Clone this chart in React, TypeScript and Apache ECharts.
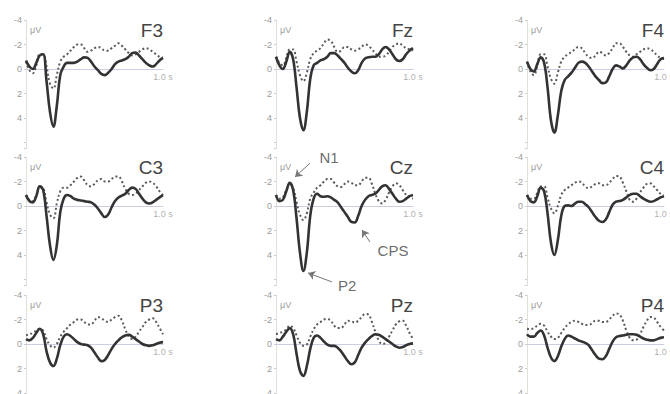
import React, { useEffect, useRef } from "react";
import * as echarts from "echarts";

const TIME = [0, 0.025, 0.05, 0.075, 0.1, 0.125, 0.15, 0.175, 0.2, 0.225, 0.25, 0.275, 0.3, 0.325, 0.35, 0.375, 0.4, 0.425, 0.45, 0.475, 0.5, 0.525, 0.55, 0.575, 0.6, 0.625, 0.65, 0.675, 0.7, 0.725, 0.75, 0.775, 0.8, 0.825, 0.85, 0.875, 0.9, 0.925, 0.95, 0.975, 1.0];

const ELECTRODES = ["F3", "Fz", "F4", "C3", "Cz", "C4", "P3", "Pz", "P4"];

const F3_SOLID = [-0.7, -0.2, 0.0, -0.5, -1.1, -1.2, 1.0, 3.5, 4.7, 3.0, 0.5, -0.2, -0.5, -0.5, -0.5, -0.6, -0.8, -0.95, -0.9, -0.6, -0.2, 0.1, 0.4, 0.5, 0.3, 0.0, -0.4, -0.6, -0.7, -0.8, -1.0, -1.3, -1.35, -1.1, -0.8, -0.5, -0.3, -0.2, -0.4, -0.7, -0.9];
const F3_DOT = [-0.6, 0.1, 0.35, -0.3, -1.2, -1.2, -0.2, 1.2, 1.6, 0.5, -0.6, -1.0, -1.2, -1.5, -1.8, -2.0, -2.0, -1.7, -1.4, -1.5, -1.7, -1.8, -1.7, -1.5, -1.5, -1.7, -1.9, -2.1, -1.9, -1.6, -1.3, -1.1, -1.2, -1.4, -1.6, -1.7, -1.6, -1.4, -1.2, -1.0, -0.95];

const FZ_SOLID = [-1.0, -0.3, 0.0, -0.6, -1.4, -0.8, 1.5, 4.0, 5.0, 3.5, 0.8, -0.3, -0.5, -0.7, -0.8, -1.0, -1.3, -1.3, -1.1, -0.8, -0.5, -0.1, 0.2, 0.35, 0.1, -0.5, -0.85, -0.95, -1.0, -1.0, -1.2, -1.6, -1.8, -1.6, -1.2, -0.8, -0.65, -0.8, -1.2, -1.5, -1.7];
const FZ_DOT = [-1.0, -0.5, -0.3, -0.9, -1.6, -1.6, -0.6, 0.5, 1.0, 0.3, -0.8, -1.3, -1.5, -1.7, -2.1, -2.4, -2.3, -1.8, -1.4, -1.5, -1.8, -1.8, -1.6, -1.5, -1.6, -1.8, -2.0, -1.9, -1.6, -1.3, -1.0, -1.0, -1.1, -1.4, -1.8, -2.0, -2.1, -1.9, -1.7, -1.6, -1.5];

const F4_SOLID = [-0.6, 0.0, 0.2, -0.4, -0.95, -0.5, 1.5, 4.2, 5.2, 3.8, 1.8, 0.9, 0.6, 0.3, -0.1, -0.5, -0.6, -0.5, -0.2, 0.2, 0.6, 0.9, 1.15, 1.1, 0.6, 0.0, -0.3, -0.2, -0.05, -0.3, -0.7, -0.95, -1.0, -0.8, -0.4, -0.1, 0.1, 0.0, -0.4, -0.8, -0.9];
const F4_DOT = [-0.6, 0.2, 0.5, -0.3, -1.2, -1.2, -0.2, 0.8, 1.2, 0.3, -0.6, -1.0, -1.2, -1.4, -1.6, -1.8, -1.7, -1.3, -1.0, -0.9, -1.1, -1.4, -1.3, -1.1, -1.3, -1.7, -2.1, -2.1, -1.8, -1.4, -1.1, -1.0, -1.2, -1.4, -1.6, -1.7, -1.6, -1.4, -1.1, -0.9, -0.8];

const C3_SOLID = [-0.9, -0.4, -0.3, -0.8, -1.6, -1.3, 0.8, 3.2, 4.4, 3.2, 0.5, -0.6, -0.9, -0.8, -0.6, -0.5, -0.45, -0.4, -0.35, -0.3, -0.1, 0.2, 0.6, 0.9, 0.7, 0.1, -0.4, -0.7, -0.85, -1.0, -1.3, -1.5, -1.4, -1.0, -0.6, -0.3, -0.2, -0.3, -0.5, -0.7, -0.9];
const C3_DOT = [-0.9, -0.5, -0.4, -0.9, -1.6, -1.5, -0.3, 0.7, 1.0, -0.2, -1.2, -1.5, -1.5, -1.7, -2.0, -2.3, -2.4, -2.1, -1.7, -1.6, -1.8, -2.1, -2.2, -2.0, -2.0, -2.2, -2.4, -2.4, -2.0, -1.4, -1.0, -0.9, -1.0, -1.3, -1.6, -1.9, -2.0, -1.9, -1.6, -1.2, -0.9];

const CZ_SOLID = [-0.9, -0.4, -0.5, -1.2, -1.9, -1.3, 1.0, 3.8, 5.3, 3.8, 0.8, -0.6, -1.0, -0.8, -0.75, -0.8, -0.7, -0.5, -0.3, 0.1, 0.5, 0.9, 1.3, 1.35, 0.8, 0.0, -0.5, -0.8, -0.9, -1.0, -1.3, -1.6, -1.7, -1.4, -1.0, -0.6, -0.35, -0.4, -0.6, -0.8, -0.9];
const CZ_DOT = [-0.9, -0.6, -0.7, -1.3, -1.85, -1.5, -0.3, 0.7, 1.15, 0.6, -0.6, -1.1, -1.5, -1.7, -2.0, -2.2, -2.2, -1.9, -1.6, -1.55, -1.8, -2.0, -1.9, -1.7, -1.7, -2.0, -2.3, -2.3, -1.8, -1.0, -0.4, -0.2, -0.5, -1.1, -1.6, -1.85, -1.7, -1.3, -0.9, -0.7, -0.6];

const C4_SOLID = [-0.9, -0.4, -0.3, -0.8, -1.5, -1.2, 0.6, 3.0, 4.0, 2.8, 0.8, 0.0, -0.05, 0.0, -0.2, -0.35, -0.35, -0.15, 0.1, 0.5, 0.9, 1.2, 1.3, 1.1, 0.5, -0.1, -0.35, -0.4, -0.5, -0.7, -0.9, -1.0, -1.0, -0.8, -0.6, -0.45, -0.35, -0.4, -0.55, -0.7, -0.8];
const C4_DOT = [-0.9, -0.6, -0.6, -1.1, -1.6, -1.6, -0.7, 0.2, 0.6, 0.0, -0.9, -1.3, -1.5, -1.7, -1.9, -2.0, -1.9, -1.6, -1.45, -1.6, -1.8, -1.85, -1.7, -1.7, -1.9, -2.2, -2.45, -2.4, -1.9, -1.2, -0.5, -0.35, -0.6, -1.1, -1.5, -1.8, -1.85, -1.6, -1.3, -1.0, -0.9];

const P3_SOLID = [-0.4, -0.3, -0.5, -0.9, -1.25, -0.8, 0.6, 1.5, 1.8, 1.2, 0.1, -0.6, -0.8, -0.65, -0.4, -0.15, 0.0, 0.05, 0.1, 0.3, 0.7, 1.1, 1.4, 1.3, 0.9, 0.4, 0.0, -0.3, -0.55, -0.7, -0.75, -0.6, -0.4, -0.2, 0.0, 0.1, 0.15, 0.1, 0.0, -0.1, -0.15];
const P3_DOT = [-0.7, -0.8, -0.9, -1.1, -1.25, -1.1, -0.4, 0.1, 0.3, 0.0, -0.6, -1.0, -1.3, -1.6, -1.8, -2.0, -2.0, -1.8, -1.6, -1.6, -1.9, -2.2, -2.1, -1.9, -1.8, -2.0, -2.2, -2.3, -1.9, -1.2, -0.6, -0.4, -0.6, -1.0, -1.4, -1.8, -2.0, -2.1, -1.8, -1.3, -0.8];

const PZ_SOLID = [-0.4, -0.3, -0.6, -1.0, -1.3, -0.8, 0.8, 2.2, 2.6, 1.8, 0.4, -0.5, -0.7, -0.5, -0.2, 0.05, 0.15, 0.15, 0.3, 0.6, 1.0, 1.4, 1.65, 1.5, 0.9, 0.3, -0.1, -0.4, -0.65, -0.8, -0.75, -0.6, -0.4, -0.2, 0.0, 0.2, 0.3, 0.25, 0.1, 0.0, -0.05];
const PZ_DOT = [-0.8, -0.9, -1.0, -1.2, -1.5, -1.3, -0.7, -0.1, 0.15, 0.05, -0.6, -1.2, -1.6, -1.8, -2.0, -2.05, -1.9, -1.5, -1.3, -1.3, -1.6, -1.9, -1.85, -1.75, -1.9, -2.2, -2.45, -2.4, -1.8, -1.0, -0.3, 0.0, -0.1, -0.6, -1.1, -1.6, -1.85, -1.9, -1.5, -0.9, -0.4];

const P4_SOLID = [-0.8, -0.6, -0.6, -0.9, -1.1, -0.7, 0.3, 1.1, 1.4, 1.0, 0.2, -0.4, -0.7, -0.6, -0.45, -0.3, -0.2, -0.1, 0.1, 0.5, 0.9, 1.2, 1.25, 1.0, 0.4, -0.2, -0.55, -0.65, -0.7, -0.75, -0.8, -0.8, -0.75, -0.6, -0.45, -0.35, -0.3, -0.3, -0.4, -0.5, -0.55];
const P4_DOT = [-1.25, -1.2, -1.3, -1.5, -1.65, -1.5, -1.0, -0.6, -0.4, -0.5, -0.9, -1.3, -1.6, -1.8, -1.9, -1.8, -1.65, -1.55, -1.55, -1.7, -1.9, -1.9, -1.8, -1.8, -2.0, -2.3, -2.5, -2.4, -1.9, -1.1, -0.5, -0.3, -0.35, -0.8, -1.4, -1.9, -2.2, -2.15, -1.8, -1.4, -1.1];

const SOLIDS = [F3_SOLID, FZ_SOLID, F4_SOLID, C3_SOLID, CZ_SOLID, C4_SOLID, P3_SOLID, PZ_SOLID, P4_SOLID];
const DOTS = [F3_DOT, FZ_DOT, F4_DOT, C3_DOT, CZ_DOT, C4_DOT, P3_DOT, PZ_DOT, P4_DOT];

const Y_TICKS = [-4, -2, 0, 2, 4];
const X_END_LABEL = "1.0 s";
const X_END = 1.0;

// Annotations for the Cz panel
const ANNOT_LABELS = ["N1", "CPS", "P2"];
const ANNOT_TEXT_POS = [[0.387, -3.92], [0.854, 3.6], [0.52, 6.45]];
const ANNOT_FROM = [[0.248, -3.5], [0.686, 2.94], [0.409, 6.2]];
const ANNOT_TO = [[0.139, -2.37], [0.628, 1.96], [0.234, 5.47]];

const COL_LEFT = [26, 276, 527];
const ROW_TOP = [20, 157, 295];
const GRID_W = 137;
const PX_PER_UV = 12.25;
const Y_MIN = -4;
const Y_MAX = 6.5;
const FONT = "'Liberation Sans', Arial, Helvetica, sans-serif";

export default function App() {
  const ref = useRef<HTMLDivElement>(null);
  useEffect(() => {
    if (!ref.current) return;
    const chart = echarts.init(ref.current, undefined, { renderer: "svg" });
    const grids: any[] = [];
    const xAxes: any[] = [];
    const yAxes: any[] = [];
    const titles: any[] = [];
    const series: any[] = [];
    ELECTRODES.forEach((name, i) => {
      const col = i % 3;
      const row = Math.floor(i / 3);
      grids.push({
        left: COL_LEFT[col],
        top: ROW_TOP[row],
        width: GRID_W,
        height: (Y_MAX - Y_MIN) * PX_PER_UV,
        containLabel: false,
        outerBoundsMode: "none",
      });
      xAxes.push({
        type: "value",
        gridIndex: i,
        min: 0,
        max: X_END,
        interval: 1,
        splitLine: { show: false },
        axisTick: { show: false },
        axisLine: { show: true, onZero: true, lineStyle: { color: "#c9cee2", width: 1 } },
        axisLabel: { show: false },
      });
      yAxes.push({
        type: "value",
        gridIndex: i,
        inverse: true,
        min: Y_MIN,
        max: Y_MAX,
        interval: 2,
        splitLine: { show: false },
        axisLine: { show: true, lineStyle: { color: "#e0e0d8", width: 1 } },
        axisTick: { show: true, length: 2, lineStyle: { color: "#cccccc" } },
        axisLabel: {
          color: "#9a9a9a",
          fontSize: 9,
          fontFamily: FONT,
          margin: 4,
          formatter: (v: number) => (Y_TICKS.indexOf(v) >= 0 ? String(v) : ""),
        },
        name: "μV",
        nameLocation: "start",
        nameGap: -10,
        nameTextStyle: {
          color: "#9a9a9a",
          fontSize: 9,
          fontFamily: FONT,
          align: "left",
          verticalAlign: "middle",
          padding: [0, 0, 0, 4],
        },
      });
      titles.push({
        text: name,
        right: 670 - (COL_LEFT[col] + GRID_W),
        top: ROW_TOP[row] + 1,
        padding: 0,
        textStyle: { fontSize: 19, fontWeight: "normal", color: "#444444", fontFamily: FONT },
      });
      series.push({
        type: "line",
        xAxisIndex: i,
        yAxisIndex: i,
        data: TIME.map((t, k) => [t, DOTS[i][k]]),
        smooth: 0.4,
        symbol: "none",
        clip: false,
        lineStyle: { color: "#5a5a5a", width: 2, type: [2, 2.5] },
        z: 2,
      });
      series.push({
        type: "line",
        xAxisIndex: i,
        yAxisIndex: i,
        data: TIME.map((t, k) => [t, SOLIDS[i][k]]),
        smooth: 0.4,
        symbol: "none",
        clip: false,
        lineStyle: { color: "#333333", width: 2.6 },
        z: 3,
      });
      // "1.0 s" label under the end of the zero line
      series.push({
        type: "scatter",
        xAxisIndex: i,
        yAxisIndex: i,
        symbolSize: 0,
        silent: true,
        clip: false,
        data: [[X_END, 0]],
        label: {
          show: true,
          position: "bottom",
          distance: 3,
          formatter: X_END_LABEL,
          color: "#9a9a9a",
          fontSize: 9,
          fontFamily: FONT,
        },
      });
    });
    // Cz annotations (panel index 4)
    series.push({
      type: "scatter",
      xAxisIndex: 4,
      yAxisIndex: 4,
      symbolSize: 0,
      clip: false,
      silent: true,
      data: ANNOT_LABELS.map((l, k) => ({ value: [ANNOT_TEXT_POS[k][0], ANNOT_TEXT_POS[k][1]], name: l })),
      label: {
        show: true,
        position: "inside",
        formatter: (p: any) => p.name,
        color: "#444444",
        fontSize: 15,
        fontFamily: FONT,
      },
      markLine: {
        silent: true,
        symbol: ["none", "arrow"],
        symbolSize: 7,
        label: { show: false },
        lineStyle: { color: "#777777", width: 1, type: "solid" },
        data: ANNOT_LABELS.map((l, k) => [{ coord: ANNOT_FROM[k] }, { coord: ANNOT_TO[k] }]),
      },
      z: 5,
    });
    chart.setOption({
      animation: false,
      backgroundColor: "#ffffff",
      title: titles,
      grid: grids,
      xAxis: xAxes,
      yAxis: yAxes,
      series,
    });
    return () => chart.dispose();
  }, []);
  return (
    <div
      ref={ref}
      style={{ position: "fixed", left: 0, top: 0, width: 670, height: 394, background: "#fff" }}
    />
  );
}
